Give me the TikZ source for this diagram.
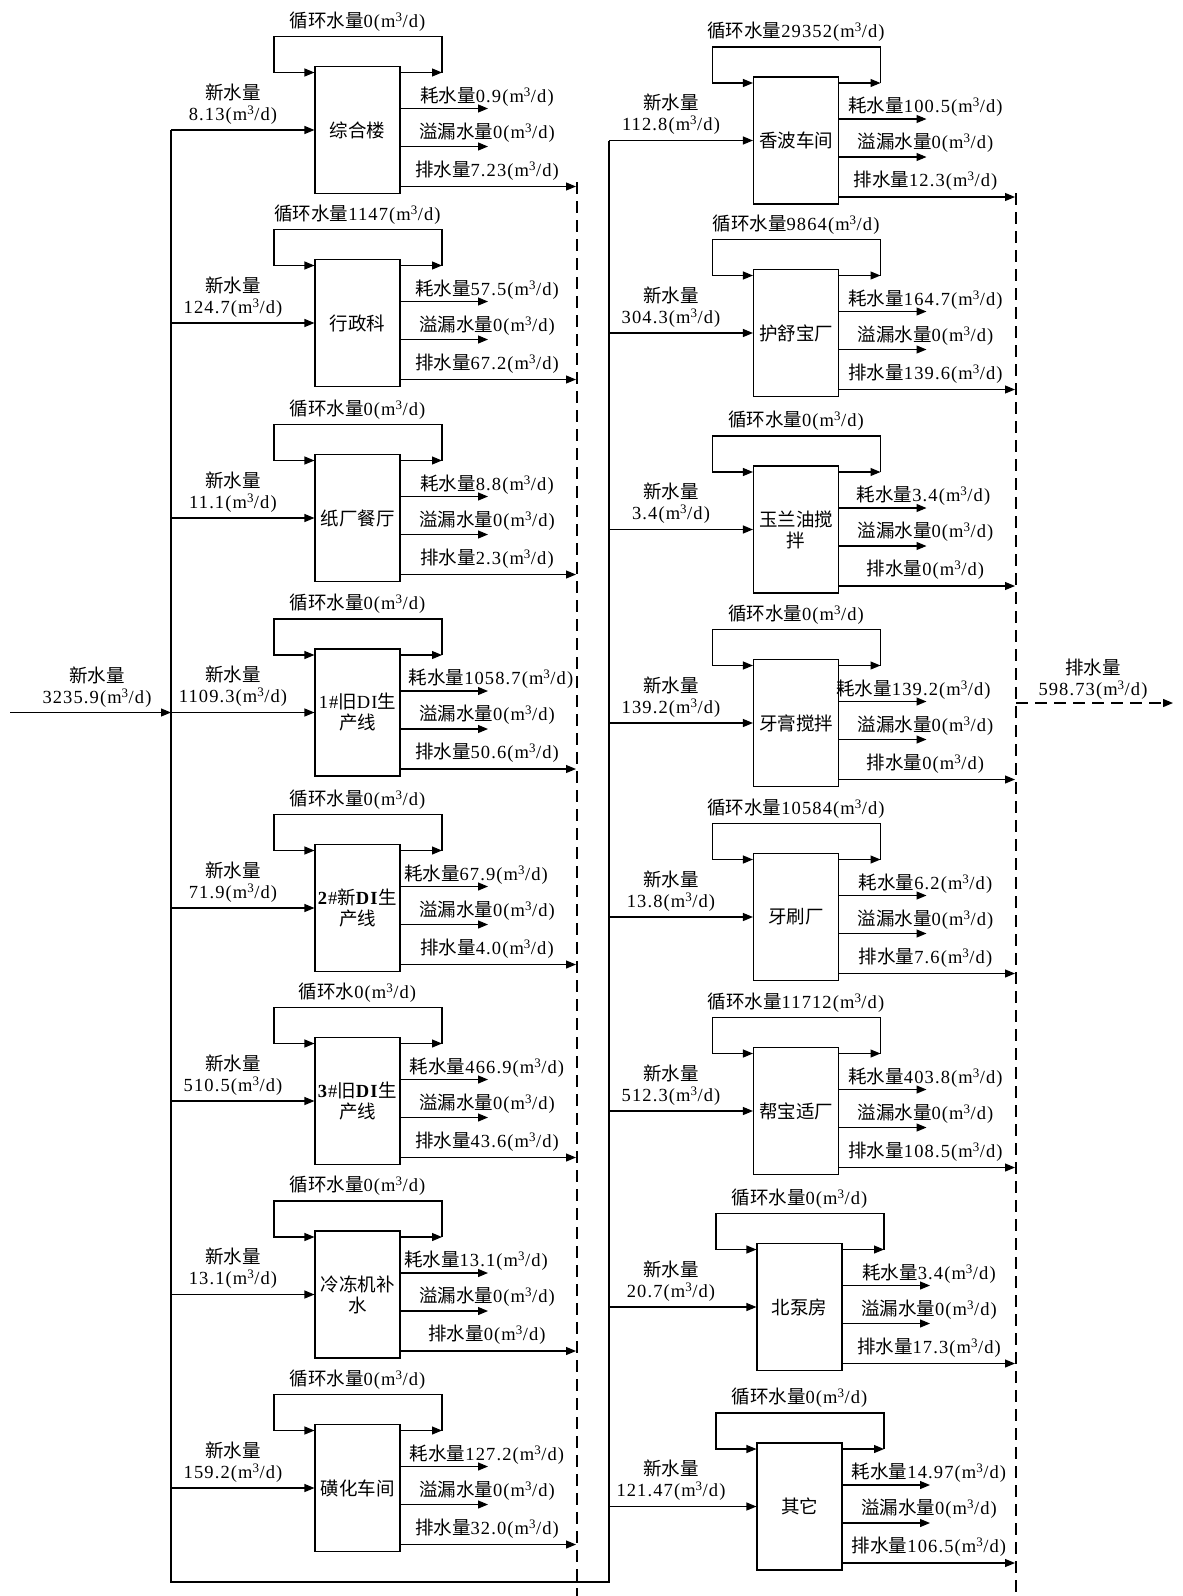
\documentclass[tikz,border=0pt]{standalone}
\usepackage{fontspec}
\setmainfont[LetterSpace=6]{Liberation Serif}
\newfontfamily\cjk{Noto Sans CJK SC}
\usetikzlibrary{arrows.meta}
\newcommand\zh[1]{{\cjk #1}}
\newcommand\U{(m\textsuperscript{3}/d)}
\newcommand\fs{\fontsize{18.5}{21}\selectfont}
\tikzset{
 box/.style={draw, line width=1.1pt, minimum width=85pt, minimum height=127pt, inner sep=0pt, align=center, font=\fs},
 lbl/.style={inner sep=0pt, font=\fs},
 arr/.style={line width=1.1pt, -{Triangle[length=10pt,width=8pt]}},
 trunk/.style={line width=1.6pt},
 dsh/.style={line width=1.3pt, dash pattern=on 12pt off 7pt},
}
% #1 name, #2 box centre x, #3 box centre y, #4 box text, #5 circulation text,
% #6 new water, #7 consumption, #8 discharge, #9 consumption label shift
\newcommand\blk[9]{%
 \node[box] (#1) at (#2,#3) {#4};
 \coordinate (#1-in) at (\tx,#3);
 \draw[arr] (#1-in) -- (#1.west);
 \node[lbl] (#1-nw) at (\tx+62,#3-38) {\zh{新水量}};
 \node[lbl] (#1-nv) at (\tx+62,#3-15) {#6\U};
 \coordinate (#1-lr) at (#2+84.5,#3-57.5);
 \coordinate (#1-lt) at (#2+84.5,#3-93.5);
 \coordinate (#1-ltl) at (#2-83.5,#3-93.5);
 \coordinate (#1-ll) at (#2-83.5,#3-57.5);
 \draw[arr] (#1.east |- #1-lr) -- (#1-lr);
 \draw[arr] (#1-lr) -- (#1-lt) -- (#1-ltl) -- (#1-ll) -- (#1.west |- #1-ll);
 \node[lbl] (#1-rc) at (#2,#3-108.5) {#5\U};
 \coordinate (#1-o1) at (#2+130.5,#3-21.5);
 \coordinate (#1-o2) at (#2+130.5,#3+16.5);
 \coordinate (#1-o3) at (\dx-1,#3+56.5);
 \draw[arr] (#1.east |- #1-o1) -- (#1-o1);
 \draw[arr] (#1.east |- #1-o2) -- (#1-o2);
 \draw[arr] (#1.east |- #1-o3) -- (#1-o3);
 \node[lbl] (#1-t1) at (#2+129.5+#9,#3-33.5) {\zh{耗水量}#7\U};
 \node[lbl] (#1-t2) at (#2+129.5,#3+2.5) {\zh{溢漏水量}0\U};
 \node[lbl] (#1-t3) at (#2+129.5,#3+40.5) {\zh{排水量}#8\U};
}
\begin{document}
\begin{tikzpicture}[x=1pt,y=-1pt]
\useasboundingbox[fill=white] (0,0) rectangle (1183,1596);
% left column
\def\tx{171}\def\dx{577}
\blk{L1}{357.5}{130}{\zh{综合楼}}{\zh{循环水量}0}{8.13}{0.9}{7.23}{0}
\blk{L2}{357.5}{323}{\zh{行政科}}{\zh{循环水量}1147}{124.7}{57.5}{67.2}{0}
\blk{L3}{357.5}{518}{\zh{纸厂餐厅}}{\zh{循环水量}0}{11.1}{8.8}{2.3}{0}
\blk{L4}{357.5}{712.5}{1\#\zh{旧}DI\zh{生}\\\zh{产线}}{\zh{循环水量}0}{1109.3}{1058.7}{50.6}{4}
\blk{L5}{357.5}{908}{\textbf{2}\#\zh{新}\textbf{DI}\zh{生}\\\zh{产线}}{\zh{循环水量}0}{71.9}{67.9}{4.0}{-11}
\blk{L6}{357.5}{1101}{\textbf{3}\#\zh{旧}\textbf{DI}\zh{生}\\\zh{产线}}{\zh{循环水}0}{510.5}{466.9}{43.6}{0}
\blk{L7}{357.5}{1294.5}{\zh{冷冻机补}\\\zh{水}}{\zh{循环水量}0}{13.1}{13.1}{0}{-11}
\blk{L8}{357.5}{1488}{\zh{磺化车间}}{\zh{循环水量}0}{159.2}{127.2}{32.0}{0}
% right column
\def\tx{609}\def\dx{1016}
\blk{R1}{796}{140.5}{\zh{香波车间}}{\zh{循环水量}29352}{112.8}{100.5}{12.3}{0}
\blk{R2}{796}{333}{\zh{护舒宝厂}}{\zh{循环水量}9864}{304.3}{164.7}{139.6}{0}
\blk{R3}{796}{529.5}{\zh{玉兰油搅}\\\zh{拌}}{\zh{循环水量}0}{3.4}{3.4}{0}{-2}
\blk{R4}{796}{723}{\zh{牙膏搅拌}}{\zh{循环水量}0}{139.2}{139.2}{0}{-12}
\blk{R5}{796}{917}{\zh{牙刷厂}}{\zh{循环水量}10584}{13.8}{6.2}{7.6}{0}
\blk{R6}{796}{1111}{\zh{帮宝适厂}}{\zh{循环水量}11712}{512.3}{403.8}{108.5}{0}
\blk{R7}{799.5}{1307}{\zh{北泵房}}{\zh{循环水量}0}{20.7}{3.4}{17.3}{0}
\blk{R8}{799.5}{1506.5}{\zh{其它}}{\zh{循环水量}0}{121.47}{14.97}{106.5}{0}
% trunks
\coordinate (bl) at (171,1582);
\coordinate (br) at (609,1582);
\draw[trunk] (L1-in) -- (bl) -- (br) -- (R1-in);
% main input
\coordinate (src) at (10,712.5);
\coordinate (jn) at (171,712.5);
\draw[arr] (src) -- (jn);
\node[lbl] (inA) at (97,675) {\zh{新水量}};
\node[lbl] (inB) at (97,698) {3235.9\U};
% collectors
\coordinate (dl1) at (577,182);
\coordinate (dl2) at (577,1596);
\coordinate (dr1) at (1016,193);
\coordinate (dr2) at (1016,1596);
\draw[dsh] (dl1) -- (dl2);
\draw[dsh] (dr1) -- (dr2);
% main output
\coordinate (oj) at (1016,703);
\coordinate (oe) at (1173,703);
\draw[dsh,-{Triangle[length=10pt,width=8pt]}] (oj) -- (oe);
\node[lbl] (outA) at (1093,667) {\zh{排水量}};
\node[lbl] (outB) at (1093,690) {598.73\U};
\end{tikzpicture}
\end{document}
